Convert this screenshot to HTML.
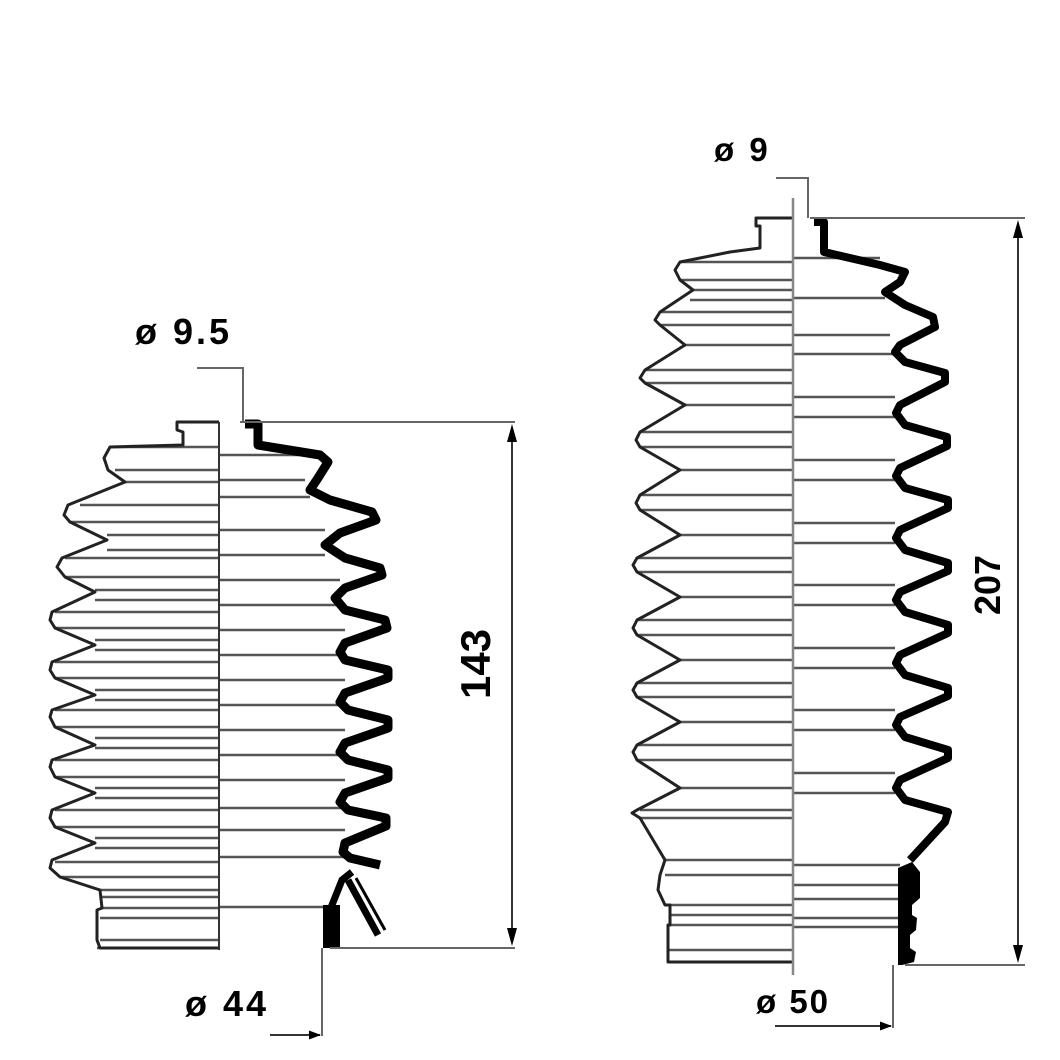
<!DOCTYPE html>
<html><head><style>html,body{margin:0;padding:0;background:#fff}svg{display:block}</style></head>
<body>
<svg width="1060" height="1060" viewBox="0 0 1060 1060" xmlns="http://www.w3.org/2000/svg" font-family="Liberation Sans, sans-serif" font-weight="bold">
<defs>
<marker id="ar" markerWidth="12" markerHeight="9" refX="11" refY="4.5" orient="auto" markerUnits="userSpaceOnUse"><path d="M0,0 L12,4.5 L0,9 Z" fill="#000"/></marker>
</defs>
<g stroke="#555" stroke-width="2.5">
<line x1="110" y1="447" x2="219" y2="447"/><line x1="115" y1="470" x2="219" y2="470"/>
<line x1="125" y1="482" x2="219" y2="482"/><line x1="80" y1="505" x2="219" y2="505"/>
<line x1="70" y1="522" x2="219" y2="522"/><line x1="107" y1="535" x2="219" y2="535"/>
<line x1="107" y1="550" x2="219" y2="550"/><line x1="65" y1="558" x2="219" y2="558"/>
<line x1="65" y1="577" x2="219" y2="577"/><line x1="95" y1="590" x2="219" y2="590"/>
<line x1="95" y1="600" x2="219" y2="600"/><line x1="55" y1="612" x2="219" y2="612"/>
<line x1="55" y1="628" x2="219" y2="628"/><line x1="95" y1="640" x2="219" y2="640"/>
<line x1="95" y1="650" x2="219" y2="650"/><line x1="55" y1="662" x2="219" y2="662"/>
<line x1="55" y1="678" x2="219" y2="678"/><line x1="95" y1="690" x2="219" y2="690"/>
<line x1="95" y1="700" x2="219" y2="700"/><line x1="55" y1="710" x2="219" y2="710"/>
<line x1="55" y1="727" x2="219" y2="727"/><line x1="95" y1="738" x2="219" y2="738"/>
<line x1="95" y1="748" x2="219" y2="748"/><line x1="55" y1="760" x2="219" y2="760"/>
<line x1="55" y1="777" x2="219" y2="777"/><line x1="95" y1="788" x2="219" y2="788"/>
<line x1="95" y1="798" x2="219" y2="798"/><line x1="55" y1="810" x2="219" y2="810"/>
<line x1="55" y1="827" x2="219" y2="827"/><line x1="95" y1="838" x2="219" y2="838"/>
<line x1="95" y1="848" x2="219" y2="848"/><line x1="55" y1="862" x2="219" y2="862"/>
<line x1="60" y1="877" x2="219" y2="877"/><line x1="100" y1="890" x2="219" y2="890"/>
<line x1="100" y1="897" x2="219" y2="897"/><line x1="100" y1="908" x2="219" y2="908"/>
<line x1="100" y1="918" x2="219" y2="918"/><line x1="100" y1="940" x2="219" y2="940"/>
<line x1="97" y1="948" x2="219" y2="948"/>
<line x1="219" y1="455" x2="300" y2="455"/><line x1="219" y1="480" x2="305" y2="480"/>
<line x1="219" y1="497" x2="310" y2="497"/><line x1="219" y1="530" x2="325" y2="530"/>
<line x1="219" y1="555" x2="325" y2="555"/><line x1="219" y1="580" x2="340" y2="580"/>
<line x1="219" y1="605" x2="345" y2="605"/><line x1="219" y1="630" x2="345" y2="630"/>
<line x1="219" y1="655" x2="345" y2="655"/><line x1="219" y1="680" x2="345" y2="680"/>
<line x1="219" y1="705" x2="345" y2="705"/><line x1="219" y1="730" x2="345" y2="730"/>
<line x1="219" y1="755" x2="345" y2="755"/><line x1="219" y1="780" x2="345" y2="780"/>
<line x1="219" y1="808" x2="345" y2="808"/><line x1="219" y1="830" x2="345" y2="830"/>
<line x1="219" y1="857" x2="345" y2="857"/><line x1="219" y1="907" x2="330" y2="907"/>
</g>
<polyline fill="none" stroke="#222" stroke-width="3" stroke-linejoin="round" points="219,422 177,422 177,430 183,432 183,445 110,447 104,458 108,470 125,482 68,505 64,515 70,522 107,540 62,558 57,567 65,577 95,592 52,612 50,620 55,628 95,645 52,662 50,670 55,678 95,695 52,710 50,717 55,727 95,745 52,760 50,767 55,777 95,793 52,810 50,818 55,827 95,843 52,860 50,868 60,877 100,890 102,908 97,910 97,940 100,948 219,948"/>
<line x1="219" y1="422" x2="219" y2="950" stroke="#333" stroke-width="2"/>
<polyline fill="none" stroke="#000" stroke-width="9" stroke-linejoin="round" points="245,424 258,424 258,445 320,455 328,462 318,478 310,490 330,500 372,512 376,520 340,533 325,545 345,558 380,568 382,575 345,588 335,598 345,610 385,620 387,628 345,643 340,652 345,660 388,670 388,678 345,693 340,702 348,710 388,720 388,728 345,743 340,752 348,760 388,770 388,778 345,793 340,802 348,810 386,818 386,826 345,843 343,852 350,858 380,865"/>
<rect x="323" y="905" width="17" height="43" fill="#000"/>
<path d="M330,910 L342,880 L352,872 M348,880 L378,935" stroke="#000" stroke-width="7" fill="none"/>
<path d="M356,878 L385,930" stroke="#000" stroke-width="3" fill="none"/>
<g stroke="#666" stroke-width="2" fill="none">
<line x1="240" y1="422" x2="515" y2="422"/><line x1="330" y1="948" x2="515" y2="948"/>
<polyline points="197,368 243,368 243,422"/>
<line x1="322" y1="948" x2="322" y2="1036"/>
</g>
<line x1="512" y1="440" x2="512" y2="930" stroke="#333" stroke-width="2"/>
<path d="M512,424 L507,442 L517,442 Z M512,946 L507,928 L517,928 Z"/>
<line x1="270" y1="1035" x2="320" y2="1035" stroke="#333" stroke-width="2" marker-end="url(#ar)"/>
<text x="135" y="344" font-size="36" letter-spacing="3">ø 9.5</text>
<text x="185" y="1016" font-size="36" letter-spacing="3">ø 44</text>
<text transform="translate(490,664) rotate(-90)" font-size="42" text-anchor="middle">143</text>

<g stroke="#555" stroke-width="2.5">
<line x1="680" y1="262" x2="793" y2="262"/><line x1="680" y1="280" x2="793" y2="280"/>
<line x1="693" y1="290" x2="793" y2="290"/><line x1="690" y1="300" x2="793" y2="300"/>
<line x1="660" y1="312" x2="793" y2="312"/><line x1="660" y1="325" x2="793" y2="325"/>
<line x1="685" y1="345" x2="793" y2="345"/><line x1="645" y1="370" x2="793" y2="370"/>
<line x1="645" y1="383" x2="793" y2="383"/><line x1="685" y1="405" x2="793" y2="405"/>
<line x1="640" y1="432" x2="793" y2="432"/><line x1="640" y1="447" x2="793" y2="447"/>
<line x1="680" y1="470" x2="793" y2="470"/><line x1="640" y1="495" x2="793" y2="495"/>
<line x1="640" y1="510" x2="793" y2="510"/><line x1="680" y1="535" x2="793" y2="535"/>
<line x1="637" y1="558" x2="793" y2="558"/><line x1="637" y1="572" x2="793" y2="572"/>
<line x1="680" y1="597" x2="793" y2="597"/><line x1="637" y1="620" x2="793" y2="620"/>
<line x1="637" y1="635" x2="793" y2="635"/><line x1="680" y1="660" x2="793" y2="660"/>
<line x1="637" y1="683" x2="793" y2="683"/><line x1="637" y1="697" x2="793" y2="697"/>
<line x1="680" y1="722" x2="793" y2="722"/><line x1="637" y1="745" x2="793" y2="745"/>
<line x1="637" y1="760" x2="793" y2="760"/><line x1="680" y1="788" x2="793" y2="788"/>
<line x1="640" y1="810" x2="793" y2="810"/><line x1="640" y1="818" x2="793" y2="818"/>
<line x1="665" y1="860" x2="793" y2="860"/><line x1="665" y1="875" x2="793" y2="875"/>
<line x1="670" y1="905" x2="793" y2="905"/><line x1="670" y1="915" x2="793" y2="915"/>
<line x1="670" y1="925" x2="793" y2="925"/><line x1="668" y1="950" x2="793" y2="950"/>
<line x1="668" y1="962" x2="793" y2="962"/>
<line x1="793" y1="258" x2="880" y2="258"/><line x1="793" y1="298" x2="885" y2="298"/>
<line x1="793" y1="335" x2="890" y2="335"/><line x1="793" y1="354" x2="895" y2="354"/>
<line x1="793" y1="397" x2="895" y2="397"/><line x1="793" y1="417" x2="895" y2="417"/>
<line x1="793" y1="460" x2="895" y2="460"/><line x1="793" y1="480" x2="895" y2="480"/>
<line x1="793" y1="523" x2="895" y2="523"/><line x1="793" y1="543" x2="895" y2="543"/>
<line x1="793" y1="585" x2="895" y2="585"/><line x1="793" y1="605" x2="895" y2="605"/>
<line x1="793" y1="648" x2="895" y2="648"/><line x1="793" y1="668" x2="895" y2="668"/>
<line x1="793" y1="710" x2="895" y2="710"/><line x1="793" y1="730" x2="895" y2="730"/>
<line x1="793" y1="773" x2="895" y2="773"/><line x1="793" y1="793" x2="895" y2="793"/>
<line x1="793" y1="865" x2="900" y2="865"/><line x1="793" y1="885" x2="910" y2="885"/>
<line x1="793" y1="899" x2="910" y2="899"/><line x1="793" y1="918" x2="900" y2="918"/>
<line x1="793" y1="927" x2="900" y2="927"/>
</g>
<polyline fill="none" stroke="#222" stroke-width="3" stroke-linejoin="round" points="793,218 756,218 756,226 760,226 760,248 730,252 680,262 675,270 680,280 693,290 660,312 655,320 660,325 685,345 645,370 640,378 645,383 685,405 640,432 636,440 640,447 680,470 640,495 636,503 640,510 680,535 637,558 633,565 637,572 680,597 637,620 633,628 637,635 680,660 637,683 633,690 637,697 680,722 637,745 633,752 637,760 680,788 637,810 632,813 640,818 665,860 660,875 658,890 665,905 670,905 670,925 668,925 668,962 793,962"/>
<line x1="793" y1="198" x2="793" y2="975" stroke="#888" stroke-width="2.5"/>
<polyline fill="none" stroke="#000" stroke-width="8" stroke-linejoin="round" points="814,222 824,222 824,252 880,265 905,272 900,282 885,292 905,305 933,317 935,327 900,345 895,352 905,362 945,373 945,382 900,405 896,413 905,425 947,437 947,446 900,468 896,476 905,488 948,500 948,508 900,530 896,538 905,550 948,563 948,571 900,592 896,600 905,612 948,625 948,633 900,655 896,663 905,675 948,688 948,696 900,717 896,725 905,737 948,750 948,758 900,780 896,788 905,800 948,812 945,822 910,860"/>
<path d="M898,868 L912,862 L920,872 L920,898 L912,905 L912,915 L917,918 L916,930 L910,935 L910,948 L916,952 L914,962 L902,965 L898,965 Z" fill="#000"/>
<g stroke="#666" stroke-width="2" fill="none">
<line x1="810" y1="218" x2="1025" y2="218"/><line x1="905" y1="965" x2="1025" y2="965"/>
<polyline points="776,178 808,178 808,218"/>
<line x1="893" y1="965" x2="893" y2="1028"/>
</g>
<line x1="1018" y1="236" x2="1018" y2="947" stroke="#333" stroke-width="2"/>
<path d="M1018,220 L1013,238 L1023,238 Z M1018,963 L1013,945 L1023,945 Z"/>
<line x1="775" y1="1026" x2="891" y2="1026" stroke="#333" stroke-width="2" marker-end="url(#ar)"/>
<text x="714" y="161" font-size="33" letter-spacing="3">ø 9</text>
<text x="756" y="1013" font-size="33" letter-spacing="2">ø 50</text>
<text transform="translate(1000,585) rotate(-90)" font-size="36" text-anchor="middle">207</text>
</svg>
</body></html>
